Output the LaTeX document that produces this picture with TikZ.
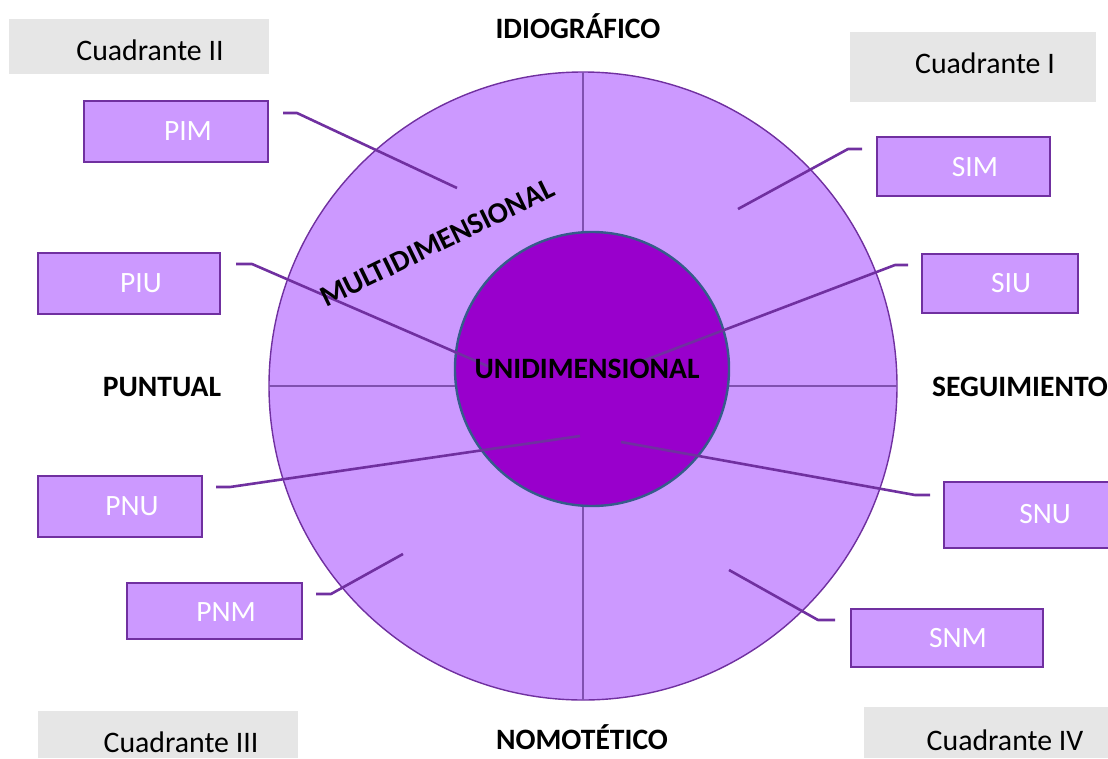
\documentclass[tikz,border=0pt]{standalone}
\usepackage{fontspec}
\setmainfont{Carlito}
\definecolor{ringfill}{HTML}{CC99FF}
\definecolor{corefill}{HTML}{9900CC}
\definecolor{coreedge}{HTML}{355C8A}
\definecolor{plum}{HTML}{7030A0}
\definecolor{quadline}{HTML}{8050B0}
\definecolor{tagfill}{HTML}{E6E6E6}

\tikzset{
  ring/.style={fill=ringfill, draw=plum, line width=1.4pt},
  core/.style={fill=corefill, draw=coreedge, line width=2.4pt},
  axis/.style={draw=quadline, line width=1.3pt},
  leader/.style={draw=plum, line width=2.6pt, line join=round},
  codebox/.style={draw=plum, fill=ringfill, line width=2.6pt, inner sep=0pt},
  codetext/.style={text=white, font=\fontsize{29.5}{31}\selectfont, inner sep=0pt},
  tagbox/.style={fill=tagfill, draw=none, inner sep=0pt},
  tagtext/.style={text=black, font=\fontsize{29.8}{31}\selectfont, inner sep=0pt},
  axislabel/.style={text=black, font=\bfseries\fontsize{29.6}{31}\selectfont, inner sep=0pt},
}

\begin{document}
\begin{tikzpicture}[x=1pt,y=-1pt]
\useasboundingbox (0,0) rectangle (1108,758);

% outer ring and its quadrant axes
\coordinate (O) at (583,386);
\path[ring] (O) circle[radius=314];
\draw[axis] (583,72) -- (583,700);
\draw[axis] (269,386) -- (897,386);

% inner circle
\node[core, circle, minimum size=274pt, inner sep=0pt] (core) at (592,369) {};

% quadrant tags
\node[tagbox, minimum width=260pt, minimum height=55pt] (q2) at (139,46.5) {};
\node[tagtext] (q2t) at (150,50) {Cuadrante II};
\node[tagbox, minimum width=246pt, minimum height=70pt] (q1) at (973,67) {};
\node[tagtext] (q1t) at (985,63) {Cuadrante I};
\node[tagbox, minimum width=260pt, minimum height=47pt] (q3) at (168,734.5) {};
\node[tagtext] (q3t) at (181,742) {Cuadrante III};
\node[tagbox, minimum width=244pt, minimum height=51pt] (q4) at (986,732.5) {};
\node[tagtext] (q4t) at (1005,740) {Cuadrante IV};

% code boxes
\node[codebox, minimum width=184pt, minimum height=61pt] (pim) at (176,131.5) {};
\node[codetext] (pimt) at (188,131) {PIM};
\node[codebox, minimum width=182pt, minimum height=61pt] (piu) at (129,283.5) {};
\node[codetext] (piut) at (141,283) {PIU};
\node[codebox, minimum width=173pt, minimum height=59pt] (sim) at (963.5,166.5) {};
\node[codetext] (simt) at (975,167) {SIM};
\node[codebox, minimum width=156pt, minimum height=59pt] (siu) at (1000,283.5) {};
\node[codetext] (siut) at (1011,283) {SIU};
\node[codebox, minimum width=164pt, minimum height=61pt] (pnu) at (120,506.5) {};
\node[codetext] (pnut) at (132,506) {PNU};
\node[codebox, minimum width=175pt, minimum height=56pt] (pnm) at (214.5,611) {};
\node[codetext] (pnmt) at (226,612) {PNM};
\node[codebox, minimum width=178pt, minimum height=66pt] (snu) at (1033,515) {};
\node[codetext] (snut) at (1045,514) {SNU};
\node[codebox, minimum width=192pt, minimum height=58pt] (snm) at (947,638) {};
\node[codetext] (snmt) at (958,638) {SNM};

% leader lines: short tab near each box, then a slanted run into the rings
\coordinate (pimA) at (283,113);   \coordinate (pimB) at (297,113);   \coordinate (pimC) at (457,188);
\coordinate (piuA) at (236,264);   \coordinate (piuB) at (252,264);   \coordinate (piuC) at (492,368);
\coordinate (simA) at (862,149);   \coordinate (simB) at (848,149);   \coordinate (simC) at (738,209);
\coordinate (siuA) at (908,265);   \coordinate (siuB) at (895,265);   \coordinate (siuC) at (640,362);
\coordinate (pnuA) at (216,487);   \coordinate (pnuB) at (230,487);   \coordinate (pnuC) at (580,436);
\coordinate (pnmA) at (316,594);   \coordinate (pnmB) at (331,594);   \coordinate (pnmC) at (403,554);
\coordinate (snuA) at (930,495);   \coordinate (snuB) at (915,495);   \coordinate (snuC) at (621,442);
\coordinate (snmA) at (835,620);   \coordinate (snmB) at (818,620);   \coordinate (snmC) at (729,570);
\foreach \k in {pim,piu,sim,siu,pnu,pnm,snu,snm}
  \draw[leader] (\k A) -- (\k B) -- (\k C);

% axis and ring labels
\node[axislabel, anchor=base] (idio) at (578,38.5) {IDIOGRÁFICO};
\node[axislabel, anchor=base] (nomo) at (582,749) {NOMOTÉTICO};
\node[axislabel] (punt) at (162,387) {PUNTUAL};
\node[axislabel] (segu) at (1020,387) {SEGUIMIENTO};
\node[axislabel] (uni) at (587,369) {UNIDIMENSIONAL};
\node[axislabel, rotate=26] (multi) at (437,243) {MULTIDIMENSIONAL};
\end{tikzpicture}
\end{document}
